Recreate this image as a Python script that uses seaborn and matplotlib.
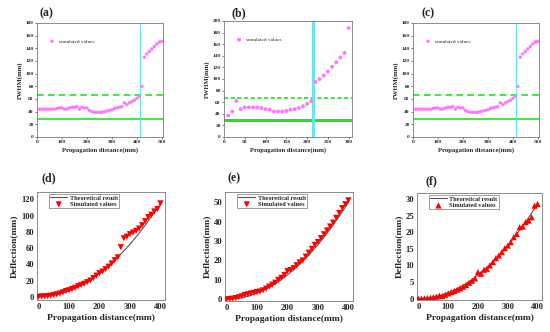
import numpy as np
import pandas as pd
import matplotlib
matplotlib.use("Agg")
import matplotlib.pyplot as plt
import seaborn as sns

# ---------------- data ----------------
# FWHM panels (a) and (c)
fwhm_ac_x = [10, 20, 30, 40, 50, 60, 70, 80, 90, 100, 110, 120, 130, 140, 150, 160, 170, 180, 190, 200,
             210, 220, 230, 240, 250, 260, 270, 280, 290, 300, 310, 320, 330, 340, 350, 360, 370, 380, 390, 400,
             410, 420, 430, 440, 450, 460, 470, 480, 490, 500]
fwhm_ac_y = [44, 44, 44, 44, 44, 44, 44, 45, 46, 46, 44, 44, 46, 47, 47, 48, 44, 47, 46, 46,
             42, 40, 39, 39, 39, 39, 40, 41, 42, 43, 45, 46, 47, 48, 54, 51, 54, 56, 58, 61,
             64, 80, 126, 131, 135, 139, 143, 147, 150, 151]
# FWHM panel (b)
fwhm_b_x = [10, 20, 30, 40, 50, 60, 70, 80, 90, 100, 110, 120, 130, 140, 150, 160, 170, 180, 190, 200,
            210, 220, 230, 240, 250, 260, 270, 280, 290, 300]
fwhm_b_y = [37, 44, 62, 48, 51, 51, 51, 51, 50, 48, 47, 44, 44, 44, 45, 47, 48, 50, 53, 57,
            62, 95, 100, 106, 113, 121, 129, 137, 145, 188]
fwhm_ac_vline = 413
fwhm_b_vline = 215
fwhm_dashed = 67
fwhm_solid = 29

# Deflection panels
defl_x = [0, 10, 20, 30, 40, 50, 60, 70, 80, 90, 100, 110, 120, 130, 140, 150, 160, 170, 180, 190, 200,
          210, 220, 230, 240, 250, 260, 270, 280, 290, 300, 310, 320, 330, 340, 350, 360, 370, 380, 390, 400]
defl_d_sim = [0, 0.2, 0.5, 0.8, 1.3, 2, 3, 4, 5.5, 7, 8, 9.5, 11, 13, 14.5, 16, 18, 20, 23, 26, 29,
              31, 34, 37, 41, 45, 48.5, 61, 72, 74, 77, 79, 81, 84, 88, 93, 98, 101, 105, 108, 115]
defl_e_sim = [0, 0.1, 0.3, 0.6, 1, 1.5, 2.2, 2.5, 3, 3.3, 3.7, 4, 4.6, 5.5, 6.5, 7.5, 8.5, 10, 11, 12.5, 14.5,
              15, 16, 17.5, 19, 20, 22, 24, 26, 28, 29.5, 31.5, 33.5, 35.5, 37.5, 39.5, 42, 44.5, 47, 49, 51]
defl_f_sim = [0, 0.05, 0.1, 0.2, 0.3, 0.45, 0.6, 0.9, 0.8, 1.2, 1.6, 2, 2.3, 2.7, 3.1, 3.6, 4.1, 4.8, 5.4, 6.1, 8,
              7.5, 8.7, 9, 10, 11, 12.2, 13, 14, 15.2, 16, 17, 18.5, 19.5, 21.5, 21.7, 23, 23.5, 24.5, 28, 28.5]
theo_x = [0, 25, 50, 75, 100, 125, 150, 175, 200, 225, 250, 275, 300, 325, 350, 375, 400]
theo_d = [0, 0.45, 1.8, 4.04, 7.19, 11.23, 16.17, 22.01, 28.75, 36.39, 44.92, 54.36, 64.69, 75.92, 88.05, 101.07, 115.0]
theo_e = [0, 0.2, 0.78, 1.76, 3.13, 4.88, 7.03, 9.57, 12.5, 15.82, 19.53, 23.63, 28.13, 33.01, 38.28, 43.95, 50.0]
theo_f = [0, 0.11, 0.45, 1.0, 1.78, 2.78, 4.0, 5.45, 7.13, 9.02, 11.13, 13.47, 16.03, 18.82, 21.82, 25.05, 28.5]

panel_labels = ["(a)", "(b)", "(c)", "(d)", "(e)", "(f)"]

# ---------------- style ----------------
sns.set_theme(style="white")
plt.rcParams["font.family"] = ["Liberation Serif", "DejaVu Serif"]
plt.rcParams["axes.linewidth"] = 0.6
plt.rcParams["axes.edgecolor"] = "#7a7a7a"

PINK = "#ff78ff"
GREEN = "#22e022"
CYAN = "#66e8f2"
RED = "#ff0000"

fig = plt.figure(figsize=(5.5, 3.32), dpi=100)
W, H = 550, 332


def add_ax(l, t, r, b):
    return fig.add_axes([l / W, 1 - b / H, (r - l) / W, (b - t) / H])


def fwhm_panel(ax, x, y, vline, xmax, ymax, xstep, ystep, thick):
    df = pd.DataFrame({"x": x, "y": y})
    ax.axhline(fwhm_solid, color=GREEN, lw=2.2 if thick else 1.2, zorder=1)
    ax.axhline(fwhm_dashed, color=GREEN, lw=1.2, ls=(0, (4, 2.5)) if not thick else (0, (2.5, 1.5)), zorder=1)
    ax.axvline(vline, color=CYAN, lw=2.2 if thick else 0.9, zorder=1)
    sns.scatterplot(data=df, x="x", y="y", ax=ax, color=PINK, s=8 if thick else 6,
                    edgecolor="none", label="simulated values", zorder=3)
    ax.set_xlim(0, xmax)
    ax.set_ylim(0, ymax)
    ax.set_xticks(np.arange(0, xmax, xstep))
    ax.set_yticks(np.arange(0, ymax + 1, ystep))
    ax.tick_params(axis="both", labelsize=3.8, length=1.2, width=0.4, pad=1.2,
                   direction="out", bottom=True, left=True)
    for lab in ax.get_xticklabels() + ax.get_yticklabels():
        lab.set_fontweight("bold")
    ax.set_xlabel("Propagation distance(mm)", fontsize=4.8, fontweight="bold", labelpad=2)
    ax.set_ylabel("FWHM(mm)", fontsize=4.8, fontweight="bold", labelpad=2)
    ax.legend(loc=(0.06, 0.80), frameon=False, fontsize=3.8, handletextpad=0.3,
              markerscale=1.0, borderaxespad=0)
    ax.grid(False)


def defl_panel(ax, sim, theo, marker, ylim, ystep):
    df_s = pd.DataFrame({"x": defl_x, "y": sim})
    df_t = pd.DataFrame({"x": theo_x, "y": theo})
    sns.lineplot(data=df_t, x="x", y="y", ax=ax, color="#555555", lw=0.8, label="Theoretical result", zorder=2)
    sns.scatterplot(data=df_s, x="x", y="y", ax=ax, color=RED, marker=marker, s=20,
                    edgecolor="none", label="Simulated values", zorder=3)
    ax.set_xlim(-5, 415)
    ax.set_ylim(*ylim)
    ax.set_xticks([0, 100, 200, 300, 400])
    ax.set_yticks(np.arange(0, ylim[1], ystep))
    ax.tick_params(axis="both", labelsize=6.2, length=0, pad=2)
    for lab in ax.get_xticklabels() + ax.get_yticklabels():
        lab.set_fontweight("bold")
    ax.set_xlabel("Propagation distance(mm)", fontsize=6.8, fontweight="bold", labelpad=2)
    ax.set_ylabel("Deflection(mm)", fontsize=6.8, fontweight="bold", labelpad=2)
    leg = ax.legend(loc="upper left", bbox_to_anchor=(0.08, 1.0), frameon=True,
                    fancybox=False, borderpad=0.2, handlelength=2.6, handletextpad=0.4,
                    labelspacing=0.15, borderaxespad=0.3, prop={"weight": "bold", "size": 4.6})
    leg.get_frame().set_edgecolor("#555555")
    leg.get_frame().set_linewidth(0.5)
    ax.grid(False)


ax_a = add_ax(37, 23, 163, 137)
fwhm_panel(ax_a, fwhm_ac_x, fwhm_ac_y, fwhm_ac_vline, 505, 180, 100, 20, False)
ax_b = add_ax(224, 21, 352, 137)
fwhm_panel(ax_b, fwhm_b_x, fwhm_b_y, fwhm_b_vline, 308, 200, 50, 20, True)
ax_c = add_ax(413, 23, 539, 137)
fwhm_panel(ax_c, fwhm_ac_x, fwhm_ac_y, fwhm_ac_vline, 505, 180, 100, 20, False)

ax_d = add_ax(37, 192, 165, 300)
defl_panel(ax_d, defl_d_sim, theo_d, "v", (-4, 129), 20)
ax_e = add_ax(225, 192, 353, 301)
defl_panel(ax_e, defl_e_sim, theo_e, "v", (-0.9, 55.3), 10)
ax_f = add_ax(417, 193, 542, 300)
defl_panel(ax_f, defl_f_sim, theo_f, "^", (-0.4, 31.8), 5)

label_pos = [(40, 13), (232, 13), (422, 13), (41, 178), (227, 178), (426, 181)]
for lab, (px, py) in zip(panel_labels, label_pos):
    fig.text(px / W, 1 - py / H, lab, fontsize=8.5, fontweight="bold", va="center", ha="left")

fig.savefig("out.png", dpi=100)
